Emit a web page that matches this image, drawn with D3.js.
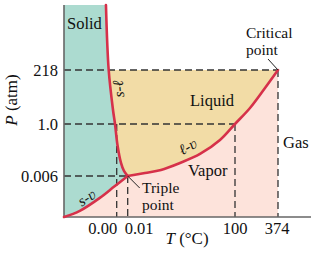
<!DOCTYPE html>
<html>
<head>
<meta charset="utf-8">
<title>Phase diagram of water</title>
<style>
  body { margin: 0; background: #fff; }
  svg text { font-family: "Liberation Serif", "Times New Roman", serif; font-size: 16.5px; fill: #111; }
  .dash { stroke: #333; stroke-width: 1.3; stroke-dasharray: 7,4; fill: none; }
  .curve { stroke: #d6314a; stroke-width: 2.6; fill: none; stroke-linecap: round; }
  .axis { stroke: #666; stroke-width: 1.6; }
</style>
</head>
<body>
<svg width="322" height="256"></svg>
<script src="https://d3js.org/d3.v7.min.js"></script>
<script>
// schematic axes (not to scale): breakpoints of the piecewise scales
const tempBreaks = [-0.05, 0.00, 0.01, 100, 374, 580];
const presBreaks = [0, 0.006, 1.0, 218, 480];

const tempTicks = [0.00, 0.01, 100, 374];
const tempTickLabels = ["0.00", "0.01", "100", "374"];
const presTicks = [0.006, 1.0, 218];
const presTickLabels = ["0.006", "1.0", "218"];

const triplePoint = [0.01, 0.006];
const boilingPoint = [100, 1.0];
const meltingPoint = [0.00, 1.0];
const criticalPoint = [374, 218];

// solid-vapour (sublimation) curve
const svT = [-0.05, -0.035, -0.016, -0.002, 0.01];
const svP = [0, 0.0009, 0.0028, 0.0045, 0.006];
// solid-liquid (fusion) curve, top to triple point
const slT = [-0.0102, -0.0076, -0.0035, -0.0016, 0.0007, 0.0039, 0.0066, 0.01];
const slP = [480, 218, 57.3, 1.0, 0.599, 0.255, 0.102, 0.006];
// liquid-vapour (boiling) curve
const lvT = [0.01, 16.1, 31.0, 48.7, 67.4, 86.0, 100, 195.6, 291.2, 374];
const lvP = [0.006, 0.063, 0.121, 0.255, 0.427, 0.694, 1.0, 65.3, 145.7, 218];

const svg = d3.select("svg");

const x = d3.scaleLinear().domain(tempBreaks).range([64, 116.7, 127.7, 235, 278, 311]);
const y = d3.scaleLinear().domain(presBreaks).range([217, 176, 124, 70, 5]);

const zip = (a, b) => a.map((v, i) => [v, b[i]]);
const sv = zip(svT, svP), sl = zip(slT, slP), lv = zip(lvT, lvP);

const line = d3.line().x(d => x(d[0])).y(d => y(d[1])).curve(d3.curveCatmullRom);
const join = pts => line(pts).replace(/^M/, "L");
const pt = (t, p) => `L${x(t)},${y(p)}`;

const tMin = tempBreaks[0], pTop = presBreaks[presBreaks.length - 1];

// regions
svg.append("path")
    .attr("d", line(sv) + join(sl.slice().reverse()) + pt(tMin, pTop) + "Z")
    .attr("fill", "#acdbd0");
svg.append("path")
    .attr("d", line(sl.slice(1)) + join(lv) + "Z")
    .attr("fill", "#f2dca6");
svg.append("path")
    .attr("d", line(sv) + join(lv) + pt(criticalPoint[0], 0) + "Z")
    .attr("fill", "#fde3db");

// dashed guide lines
const guides = [
    [[tMin, criticalPoint[1]], criticalPoint],
    [[tMin, boilingPoint[1]], boilingPoint],
    [[tMin, triplePoint[1]], triplePoint],
    [meltingPoint, [meltingPoint[0], 0]],
    [triplePoint, [triplePoint[0], 0]],
    [boilingPoint, [boilingPoint[0], 0]],
    [criticalPoint, [criticalPoint[0], 0]]
];
svg.append("g").selectAll("line").data(guides).join("line")
    .attr("class", "dash")
    .attr("x1", d => x(d[0][0])).attr("y1", d => y(d[0][1]))
    .attr("x2", d => x(d[1][0])).attr("y2", d => y(d[1][1]));

// axes
svg.append("line").attr("class", "axis")
    .attr("x1", x(tMin)).attr("y1", y(pTop)).attr("x2", x(tMin)).attr("y2", y(0));
svg.append("line").attr("class", "axis")
    .attr("x1", x(tMin)).attr("y1", y(0)).attr("x2", x(tempBreaks[5])).attr("y2", y(0));

// phase boundaries
[sv, sl, lv].forEach(c => svg.append("path").attr("class", "curve").attr("d", line(c)));

// tick labels
svg.append("g").selectAll("text").data(presTicks).join("text")
    .attr("x", x(tMin) - 6).attr("y", d => y(d)).attr("dy", "0.34em")
    .attr("text-anchor", "end")
    .text((d, i) => presTickLabels[i]);

const xAnchor = ["end", "start", "middle", "middle"];
const xShift = [0.5, -3, 0, -1];
svg.append("g").selectAll("text").data(tempTicks).join("text")
    .attr("x", (d, i) => x(d) + xShift[i]).attr("y", 234)
    .attr("text-anchor", (d, i) => xAnchor[i])
    .text((d, i) => tempTickLabels[i]);

// axis titles
const yt = svg.append("text").attr("transform", "translate(17,100) rotate(-90)")
    .attr("text-anchor", "middle").style("font-size", "17px");
yt.append("tspan").attr("font-style", "italic").text("P");
yt.append("tspan").text(" (atm)");

const xt = svg.append("text").attr("x", 187).attr("y", 244)
    .attr("text-anchor", "middle").style("font-size", "17px");
xt.append("tspan").attr("font-style", "italic").text("T");
xt.append("tspan").text(" (\u00b0C)");

// region labels
const label = (txt, px, py, size) => svg.append("text")
    .attr("x", px).attr("y", py).style("font-size", size ? size + "px" : null).text(txt);
label("Solid", 67, 29);
label("Liquid", 190, 106);
label("Vapor", 188, 176);
label("Gas", 283, 148);
label("Critical", 246, 37.5, 15.5);
label("point", 246, 54.5, 15.5);
label("Triple", 142, 192.5, 15.5);
label("point", 142, 209.5, 15.5);

// leaders
svg.append("line").attr("stroke", "#222").attr("stroke-width", 1)
    .attr("x1", x(criticalPoint[0]) - 10).attr("y1", y(criticalPoint[1]) - 11)
    .attr("x2", x(criticalPoint[0])).attr("y2", y(criticalPoint[1]));
svg.append("line").attr("stroke", "#222").attr("stroke-width", 1)
    .attr("x1", x(triplePoint[0])).attr("y1", y(triplePoint[1]))
    .attr("x2", x(triplePoint[0]) + 12).attr("y2", y(triplePoint[1]) + 12);

// curve labels
const curveLabel = (txt, px, py, ang) => svg.append("text")
    .attr("transform", `translate(${px},${py}) rotate(${ang})`)
    .attr("text-anchor", "middle").attr("dy", "0.3em")
    .attr("font-style", "italic").style("font-size", "15px")
    .text(txt);
curveLabel("s-\u2113", 119, 89, -95);
curveLabel("s-\u028b", 87, 198, -33);
curveLabel("\u2113-\u028b", 188, 147, -30);
</script>
</body>
</html>
